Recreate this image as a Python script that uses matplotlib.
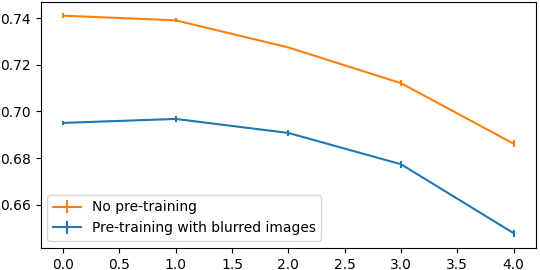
import numpy as np
import matplotlib
matplotlib.use("Agg")
import matplotlib.pyplot as plt

x = [0, 1, 2, 3, 4]
no_pre = [0.7410, 0.7390, 0.7274, 0.7121, 0.6862]
no_pre_err = [0.0010, 0.0008, 0.0004, 0.0012, 0.0014]
blur_pre = [0.6951, 0.6968, 0.6908, 0.6774, 0.6479]
blur_pre_err = [0.0008, 0.0014, 0.0014, 0.0014, 0.0015]

fig, ax = plt.subplots(figsize=(5.4, 2.7), dpi=100)
ax.errorbar(x, no_pre, yerr=no_pre_err, color="C1", label="No pre-training")
ax.errorbar(x, blur_pre, yerr=blur_pre_err, color="C0", label="Pre-training with blurred images")
ax.set_yticks([0.66, 0.68, 0.70, 0.72, 0.74])
ax.legend(loc="lower left")
plt.subplots_adjust(left=0.075, right=0.993, top=0.992, bottom=0.082)
plt.savefig("out.png")
